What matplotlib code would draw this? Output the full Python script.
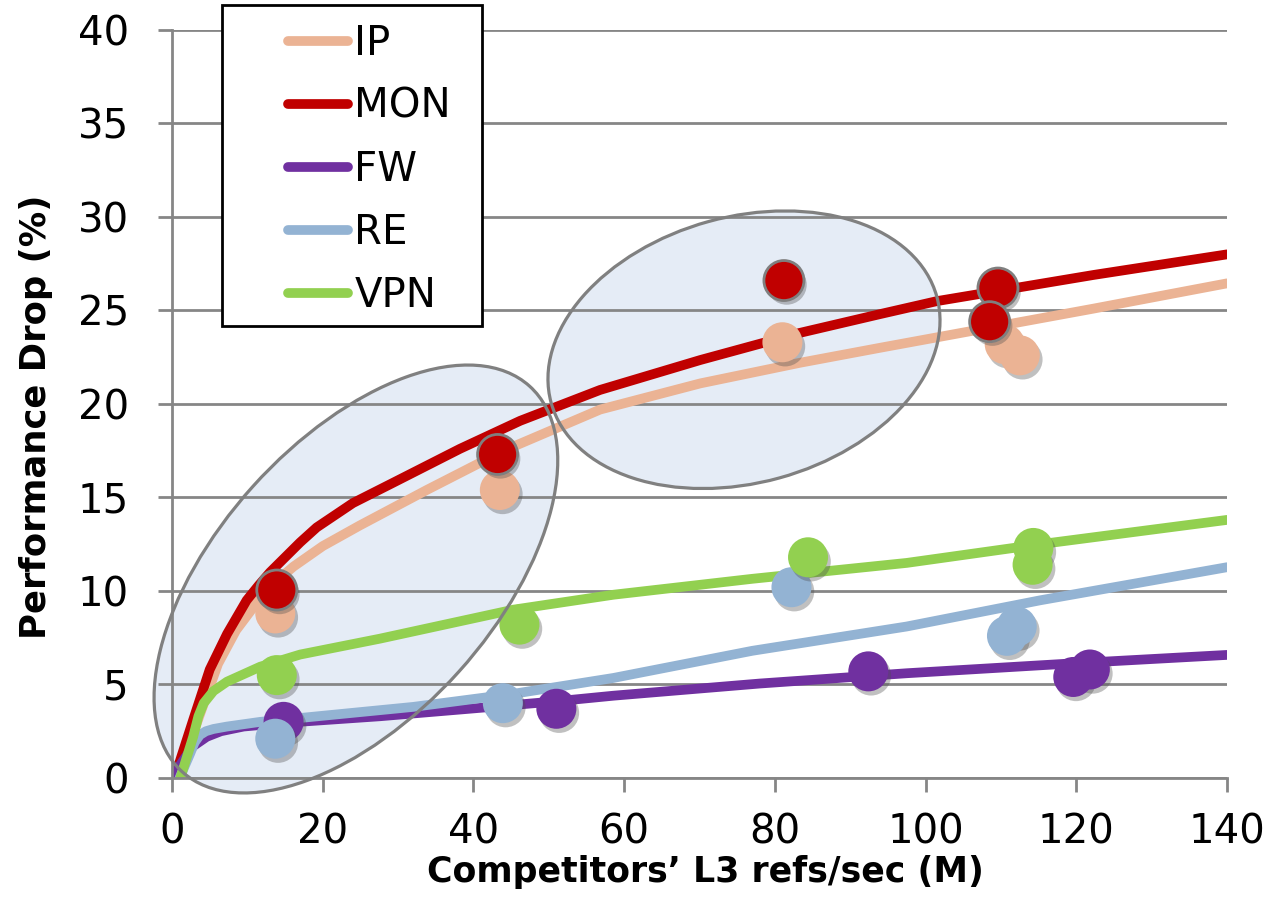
import matplotlib
matplotlib.use('Agg')
import matplotlib.pyplot as plt
import matplotlib.patheffects as pe
from matplotlib.patches import Ellipse, Rectangle
from matplotlib.lines import Line2D
from matplotlib.transforms import ScaledTranslation

# measured points (competitors' L3 refs/sec in M, performance drop in %)
ip_x = [13.7, 43.5, 81.0, 110.5, 112.5]
ip_y = [8.8, 15.4, 23.3, 23.2, 22.6]
mon_x = [13.9, 43.2, 81.2, 109.6, 108.5]
mon_y = [10.05, 17.3, 26.6, 26.2, 24.4]
fw_x = [14.8, 51.0, 92.4, 119.6, 121.8]
fw_y = [3.0, 3.7, 5.7, 5.4, 5.8]
re_x = [13.7, 43.9, 82.2, 110.8, 112.1]
re_y = [2.1, 4.0, 10.2, 7.6, 8.1]
vpn_x = [13.9, 46.1, 84.4, 114.3, 114.2]
vpn_y = [5.5, 8.2, 11.8, 12.3, 11.4]

# trend curves
ip_trend_x = [0.4, 3.0, 6.1, 8.5, 11.2, 13.5, 16.1, 20, 24.9, 33.8, 44, 56.8, 70.1, 83.3, 93.9, 122.3, 140]
ip_trend_y = [0.0, 2.6, 6.1, 7.9, 9.35, 10.4, 11.3, 12.4, 13.5, 15.4, 17.5, 19.7, 21.1, 22.2, 23.0, 25.1, 26.45]
mon_trend_x = [0.4, 2.8, 5.0, 7.3, 9.9, 11.5, 13, 15, 17, 19.2, 24, 29.4, 38.2, 46.2, 56.8, 70.1, 83.3, 93.9, 101.5, 122.3, 140]
mon_trend_y = [0.1, 3.1, 5.8, 7.7, 9.5, 10.3, 11.0, 11.8, 12.6, 13.4, 14.7, 15.8, 17.6, 19.1, 20.75, 22.35, 23.8, 24.8, 25.5, 26.9, 28.0]
fw_trend_x = [0.0, 1.5, 2.8, 4.6, 6.5, 9.5, 15, 27.6, 40.9, 51, 58.6, 78, 97.5, 119.6, 140]
fw_trend_y = [0.05, 0.95, 1.7, 2.2, 2.5, 2.75, 2.95, 3.3, 3.75, 4.1, 4.4, 5.05, 5.6, 6.13, 6.58]
re_trend_x = [1.0, 2.4, 3.0, 3.7, 4.5, 5.5, 7.3, 11.7, 14.3, 32, 45.3, 58.6, 77, 97.5, 115.2, 140]
re_trend_y = [0.0, 1.3, 1.9, 2.3, 2.5, 2.62, 2.75, 3.0, 3.1, 3.8, 4.5, 5.35, 6.8, 8.1, 9.5, 11.27]
vpn_trend_x = [1.1, 2.8, 3.5, 4.2, 5.5, 7.3, 11.7, 17, 27.6, 45.3, 58.6, 77, 97.5, 115.2, 140]
vpn_trend_y = [0.0, 2.2, 3.3, 4.0, 4.65, 5.15, 5.95, 6.6, 7.45, 9.0, 9.8, 10.65, 11.5, 12.5, 13.8]

labels = ['IP', 'MON', 'FW', 'RE', 'VPN']
colors = ['#ebb394', '#c00000', '#7030a0', '#93b3d3', '#92d050']

points = [(ip_x, ip_y), (mon_x, mon_y), (fw_x, fw_y), (re_x, re_y), (vpn_x, vpn_y)]
trends = [(ip_trend_x, ip_trend_y), (mon_trend_x, mon_trend_y), (fw_trend_x, fw_trend_y),
          (re_trend_x, re_trend_y), (vpn_trend_x, vpn_trend_y)]

grey = '#868686'

fig = plt.figure(figsize=(12.66, 9.0), dpi=100)
ax = fig.add_axes([0.1359, 0.1356, 0.8333, 0.8311])

# shaded ellipses (behind the data); centre in data units, size in inches
ell_center = [(24.4, 10.64), (75.9, 22.9)]
ell_size = [(5.19, 2.77, 48.0), (4.0, 2.66, 15.4)]
for (cx, cy), (w, h, ang) in zip(ell_center, ell_size):
    tr = fig.dpi_scale_trans + ScaledTranslation(cx, cy, ax.transData)
    ax.add_patch(Ellipse((0, 0), w, h, angle=ang, transform=tr, facecolor='#e5ecf6',
                         edgecolor='none', zorder=0.2, clip_on=False))
    ax.add_patch(Ellipse((0, 0), w, h, angle=ang, transform=tr, fill=False,
                         edgecolor='#808080', lw=2.3, zorder=6, clip_on=False))

for (tx, ty), c in zip(trends, colors):
    ax.plot(tx, ty, color=c, lw=7, solid_capstyle='round', solid_joinstyle='round', zorder=2)

shadow = [pe.SimplePatchShadow(offset=(2, -3), shadow_rgbFace='0.3', alpha=0.35), pe.Normal()]
for (px, py), c, lab in zip(points, colors, labels):
    ec = '#7f7f7f' if lab == 'MON' else 'none'
    ax.scatter(px, py, s=830, color=c, edgecolors=ec, linewidths=2, zorder=3, path_effects=shadow)

ax.set_xlim(0, 140)
ax.set_ylim(0, 40)
ax.set_xticks(range(0, 141, 20))
ax.set_yticks(range(0, 41, 5))
ax.set_axisbelow(True)
ax.yaxis.grid(True, color=grey, lw=2)
for side in ['top', 'right']:
    ax.spines[side].set_visible(False)
for side in ['left', 'bottom']:
    ax.spines[side].set_color(grey)
    ax.spines[side].set_linewidth(2)
ax.tick_params(axis='both', direction='out', length=10, width=2, color=grey, labelsize=29)
ax.tick_params(axis='x', pad=15)
ax.tick_params(axis='y', pad=21)

ax.set_xlabel('Competitors\u2019 L3 refs/sec (M)', fontsize=25, fontweight='bold', labelpad=2)
ax.set_ylabel('Performance Drop (%)', fontsize=25.5, fontweight='bold', labelpad=18)
ax.xaxis.label.set_x(0.506)
ax.yaxis.label.set_y(0.483)

# legend box
fig.patches.append(Rectangle((222 / 1266, 1 - 326 / 900), 260 / 1266, 321 / 900,
                             transform=fig.transFigure, facecolor='white',
                             edgecolor='black', lw=2, zorder=8))
handles = [Line2D([0], [0], color=c, lw=7, solid_capstyle='round') for c in colors]
leg = fig.legend(handles, labels, loc='upper left', bbox_to_anchor=(288 / 1266, 1 - 24 / 900),
                 bbox_transform=fig.transFigure, frameon=False, fontsize=29,
                 handlelength=1.5, handletextpad=0.15, labelspacing=0.57,
                 borderpad=0, borderaxespad=0)
leg.set_zorder(9)

fig.savefig('out.png', dpi=100)
